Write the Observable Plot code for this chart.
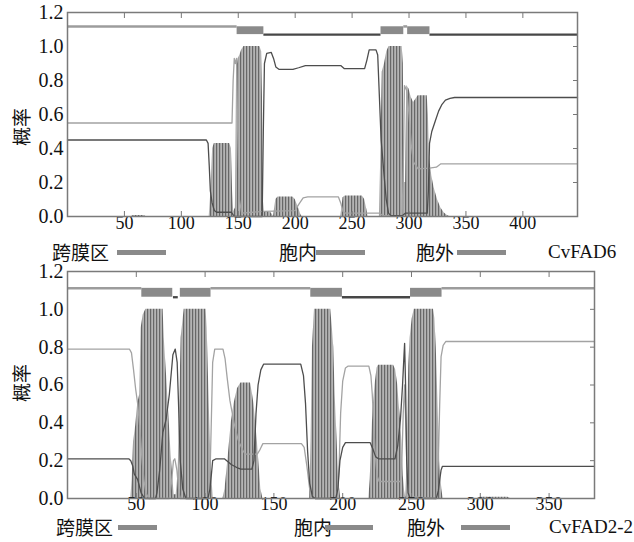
<!DOCTYPE html>
<html><head><meta charset="utf-8">
<script src="https://cdn.jsdelivr.net/npm/d3@7"></script>
<script src="https://cdn.jsdelivr.net/npm/@observablehq/plot@0.6"></script>
<style>
body{margin:0;background:#fff;}
#wrap{position:relative;width:634px;height:542px;overflow:hidden;background:#fff;}
#wrap svg{position:absolute;left:0;}
.lg{position:absolute;line-height:1;white-space:nowrap;color:#111;}
.cjk{font-family:"Noto Sans CJK SC";font-size:19px;}
.lat{font-family:"Liberation Serif",serif;font-size:19px;}
.sw{position:absolute;height:5px;background:#8a8a8a;}
.ylab{position:absolute;font-family:"Noto Sans CJK SC";font-size:19px;line-height:1;white-space:nowrap;color:#111;
  transform:translate(-50%,-50%) rotate(-90deg);}
</style></head><body><div id="wrap"></div>
<script>
// ---------- shared ----------
const yTicks = [0, 0.2, 0.4, 0.6, 0.8, 1.0, 1.2];
const yLabel = "概率";
const legendLabels = ["跨膜区", "胞内", "胞外"];

// ---------- panel 1 : CvFAD6 ----------
const name1 = "CvFAD6";
const length1 = 448;
const xTicks1 = [50, 100, 150, 200, 250, 300, 350, 400];
// transmembrane probability  [residue, probability]
const tm1 = [[0,0],[56,0],[58,0.006],[67,0.006],[69,0],
  [124.5,0],[126,0.15],[127.5,0.4],[129,0.43],[142.5,0.43],[144,0.4],[145,0.15],[146,0.03],[147.5,0.05],
  [148.5,0.85],[150,0.93],[151.5,0.95],[153,0.98],[155,1.0],[169,1.0],[170.5,0.97],[171.3,0.7],[172,0.1],[173,0.03],[176,0.03],[179,0.02],[181,0],
  [182,0.05],[183,0.1],[185,0.115],[198,0.115],[200,0.1],[203,0.05],[205,0.01],[206,0],
  [240,0],[241,0.05],[242,0.11],[244,0.12],[259,0.12],[261,0.1],[263,0.04],[264,0],
  [274,0],[275,0.3],[276.5,0.85],[278.5,0.9],[280.5,0.97],[282.5,1.0],[294,1.0],[295,0.9],[296,0.2],[297,0.2],
  [298,0.77],[300,0.75],[302,0.7],[304,0.67],[306,0.69],[308,0.71],[316,0.71],[317,0.6],[318,0.35],[320,0.24],
  [322,0.17],[325,0.1],[328,0.05],[331,0.02],[334,0.005],[336,0],[448,0]];
// inside probability
const inside1 = [[0,0.45],[122,0.45],[123.5,0.43],[124.5,0.3],[125.5,0.15],[127,0.08],[129,0.035],[131,0.025],[144,0.025],[146.5,0],
  [171,0],[172,0.5],[173,0.9],[175,0.96],[179,0.965],[181,0.93],[183,0.88],[186,0.865],[198,0.865],[203,0.875],[209,0.888],
  [240,0.888],[243,0.87],[261,0.87],[263,0.92],[265,0.98],[271,0.98],[272.5,0.95],[274,0.7],[275.5,0.45],[278,0.25],[280,0.1],[282,0.02],
  [284,0.005],[294,0.005],[297,0.02],[316,0.02],[317,0.15],[318,0.43],[320,0.5],[323,0.56],[326,0.62],[329,0.66],[332,0.685],
  [336,0.695],[340,0.7],[448,0.7]];
// outside probability
const outside1 = [[0,0.55],[144.5,0.55],[145.5,0.8],[146.5,0.93],[147.5,0.9],[148.5,0.93],[149.5,0.5],[151,0.1],[153,0.02],
  [172,0.03],[200,0.035],[203,0.07],[207,0.11],[211,0.115],[238,0.115],[240,0.08],[242,0.03],[244,0.02],[274,0.02],[277,0.005],
  [294,0.005],[295,0.3],[296,0.77],[298,0.74],[300,0.6],[302,0.42],[304,0.32],[308,0.28],[318,0.285],[324,0.29],[328,0.31],[448,0.31]];
// predicted topology segments [start, end]
const tmSeg1 = [[149,172.5],[275.4,295.4],[298.8,318.4]];
const inSeg1 = [[172.5,275.4],[318.4,448]];
const outSeg1 = [[0,149],[295.4,298.8]];

// ---------- panel 2 : CvFAD2-2 ----------
const name2 = "CvFAD2-2";
const length2 = 383;
const xTicks2 = [50, 100, 150, 200, 250, 300, 350];
const tm2 = [[0,0],[46,0],[47,0.1],[48,0.3],[49.5,0.38],[51,0.5],[52.5,0.55],[53.5,0.9],[55,0.97],[57,1.0],[69.5,1.0],
  [70.3,0.85],[72,0.65],[73.2,0.5],[75.4,0.22],[77.5,0.02],[79,0.02],[80.5,0.15],[81.5,0.5],[82.6,0.85],[84.8,1.0],[100.7,1.0],
  [101.5,0.9],[103,0.5],[104.5,0.15],[106,0],
  [113,0],[114.5,0.05],[116.5,0.2],[119,0.4],[121,0.5],[123.5,0.58],[126,0.61],[133,0.61],[134.5,0.55],[135.5,0.5],[138,0.3],[140.5,0.05],[142,0],
  [176,0],[177,0.3],[178,0.8],[179.5,1.0],[191.3,1.0],[192.5,0.9],[193.5,0.8],[194.5,0.55],[196,0.3],[197,0.1],[198.6,0],
  [219,0],[220,0.1],[221,0.3],[222,0.47],[223.5,0.6],[225,0.69],[226,0.705],[237,0.705],[238.5,0.68],[240,0.6],[241,0.5],
  [242,0.42],[243,0.3],[244,0.12],[245,0.04],[246,0],[247,0.3],[248,0.7],[249,0.85],[250.5,0.95],[252,1.0],[266,1.0],
  [267,0.95],[268,0.8],[269.5,0.45],[270.5,0.2],[272,0.05],[273,0],[298,0],[300,0.006],[320,0.006],[322,0],[383,0]];
const inside2 = [[0,0.21],[44.5,0.21],[46,0.2],[47.5,0.17],[48.5,0.13],[51,0.1],[53.5,0.03],[56,0],[64,0],[65,0.03],[67,0.15],
  [69.3,0.35],[71.7,0.42],[74,0.55],[76.6,0.76],[78.3,0.79],[79.7,0.72],[80.7,0.5],[81.9,0.2],[83.8,0.05],[86,0],
  [102,0],[103.5,0.05],[104.5,0.12],[105.5,0.2],[108,0.21],[114,0.21],[119,0.18],[124,0.16],[126,0.155],[134,0.155],
  [135.5,0.2],[137,0.45],[138.5,0.6],[140.5,0.68],[142.5,0.71],[169.5,0.71],[171.5,0.65],[173,0.5],[174.5,0.25],[176,0.08],
  [178,0.01],[180,0],[195,0],[196.5,0.05],[198,0.2],[200,0.27],[202,0.295],[220,0.295],[222,0.26],[224,0.22],[226,0.21],
  [238,0.21],[240,0.28],[242,0.42],[243.5,0.6],[244.5,0.75],[245,0.82],[245.7,0.6],[246.5,0.2],[247.5,0.03],[249,0],
  [268,0],[269.5,0.04],[270.5,0.1],[271.5,0.15],[272.5,0.17],[383,0.17]];
const outside2 = [[0,0.79],[45,0.79],[46.5,0.77],[48,0.68],[49.5,0.58],[51,0.5],[52.5,0.38],[54,0.22],[55.5,0.1],[57,0.03],[59,0],
  [74,0],[75.5,0.08],[77,0.2],[78,0.21],[79.5,0.15],[81,0.03],[82,0],[102,0],[103.5,0.1],[104.5,0.4],[105.5,0.72],[107,0.79],
  [113,0.79],[114.5,0.74],[116,0.64],[118,0.52],[121,0.4],[124,0.31],[127,0.26],[129,0.235],[138,0.235],[140,0.26],[142,0.29],
  [170,0.29],[172,0.27],[174,0.17],[176,0.05],[178,0.01],[180,0],[195,0],[196.5,0.05],[197.5,0.2],[198.5,0.45],[200,0.62],
  [202,0.69],[204,0.7],[219,0.7],[220.5,0.65],[221.5,0.55],[222.5,0.4],[223.5,0.25],[225,0.12],[226.5,0.09],[242,0.09],
  [243,0.2],[244,0.45],[245,0.6],[246,0.35],[247,0.08],[248,0.01],[268,0],[269.5,0.2],[270.5,0.5],[271.5,0.75],[273,0.81],
  [275,0.83],[383,0.83]];
const tmSeg2 = [[54,76.5],[82,104.3],[176.8,199.8],[249.3,272.2]];
const inSeg2 = [[77,80.5],[199.8,249.3]];
const outSeg2 = [[0,54],[104.3,176.8],[272.2,383]];

// ---------- drawing ----------
const wrap = document.getElementById("wrap");
const X = d => d[0], Y = d => d[1];
const SERIF = "Liberation Serif";

function panel(o) {
  const svg = Plot.plot({
    width: 634, height: o.height,
    marginTop: 12, marginBottom: o.marginBottom, marginLeft: 67, marginRight: o.marginRight,
    style: {background: "transparent", overflow: "visible"},
    x: {domain: [0, o.len], axis: null},
    y: {domain: [0, 1.2], axis: null},
    marks: [
      Plot.areaY(o.tm, {x: X, y: Y, fill: `url(#${o.hatch})`}),
      Plot.line(o.outside, {x: X, y: Y, stroke: "#a3a3a3", strokeWidth: 1.3}),
      Plot.line(o.inside, {x: X, y: Y, stroke: "#4d4d4d", strokeWidth: 1.3}),
      Plot.ruleY(o.outSeg, {y: o.lvOut, x1: X, x2: Y, stroke: "#9c9c9c", strokeWidth: 2.5}),
      Plot.ruleY(o.inSeg, {y: o.lvIn, x1: X, x2: Y, stroke: "#474747", strokeWidth: 2.3}),
      Plot.rect(o.tmSeg, {x1: X, x2: Y, y1: o.lvIn, y2: o.lvBox, fill: "#8a8a8a"}),
      // inward ticks
      Plot.axisX({anchor: "bottom", ticks: o.xTicks, tickSize: -5, tickFormat: () => "", label: null, stroke: "#777"}),
      Plot.axisX({anchor: "top", ticks: o.xTicks, tickSize: -5, tickFormat: () => "", label: null, stroke: "#777"}),
      Plot.axisY({anchor: "right", ticks: yTicks, tickSize: -5, tickFormat: () => "", label: null, stroke: "#777"}),
      // tick labels
      Plot.text(o.xTicks, {x: d => d, text: d => String(d), frameAnchor: "bottom", dy: o.xDy,
        fontSize: 18, fontFamily: SERIF, fill: "#111"}),
      Plot.text(yTicks, {y: d => d, text: d => d.toFixed(1), frameAnchor: "left", dx: -4, textAnchor: "end",
        fontSize: 20, fontFamily: SERIF, fill: "#111"}),
      Plot.frame({stroke: "#7a7a7a", strokeWidth: 1.5})
    ]
  });
  const defs = document.createElementNS("http://www.w3.org/2000/svg", "defs");
  defs.innerHTML = `<pattern id="${o.hatch}" width="3" height="8" patternUnits="userSpaceOnUse">
    <rect width="3" height="8" fill="#b4b4b4"/><rect width="1.2" height="8" fill="#676767"/></pattern>`;
  svg.insertBefore(defs, svg.firstChild);
  svg.style.top = o.top + "px";
  wrap.appendChild(svg);
  const yl = document.createElement("div");
  yl.className = "ylab"; yl.textContent = yLabel;
  yl.style.left = "20px"; yl.style.top = o.labelY + "px";
  wrap.appendChild(yl);
}

panel({len: length1, tm: tm1, inside: inside1, outside: outside1, tmSeg: tmSeg1, inSeg: inSeg1, outSeg: outSeg1,
  xTicks: xTicks1, height: 240, marginBottom: 24, marginRight: 57, top: 0, xDy: 12, labelY: 127,
  lvOut: 1.118, lvIn: 1.07, lvBox: 1.116, hatch: "hatchA"});
panel({len: length2, tm: tm2, inside: inside2, outside: outside2, tmSeg: tmSeg2, inSeg: inSeg2, outSeg: outSeg2,
  xTicks: xTicks2, height: 262, marginBottom: 23, marginRight: 40, top: 259, xDy: 11, labelY: 383,
  lvOut: 1.111, lvIn: 1.064, lvBox: 1.111, hatch: "hatchB"});

// ---------- legends ----------
function legend(cy, items, name, nameX) {
  items.forEach((it, i) => {
    const t = document.createElement("div");
    t.className = "lg cjk"; t.textContent = legendLabels[i];
    t.style.left = it.tx + "px"; t.style.top = (cy - 10) + "px";
    wrap.appendChild(t);
    const s = document.createElement("div");
    s.className = "sw"; s.style.left = it.l1 + "px"; s.style.width = (it.l2 - it.l1) + "px";
    s.style.top = (cy - 2.5) + "px";
    wrap.appendChild(s);
  });
  const n = document.createElement("div");
  n.className = "lg lat"; n.textContent = name;
  n.style.left = nameX + "px"; n.style.top = (cy - 10) + "px";
  wrap.appendChild(n);
}
legend(252, [{tx: 52, l1: 117, l2: 166}, {tx: 279, l1: 316, l2: 365}, {tx: 416, l1: 457, l2: 506}], name1, 548);
legend(527, [{tx: 56, l1: 118, l2: 157}, {tx: 294, l1: 325, l2: 373}, {tx: 407, l1: 461, l2: 510}], name2, 549);
</script></body></html>
